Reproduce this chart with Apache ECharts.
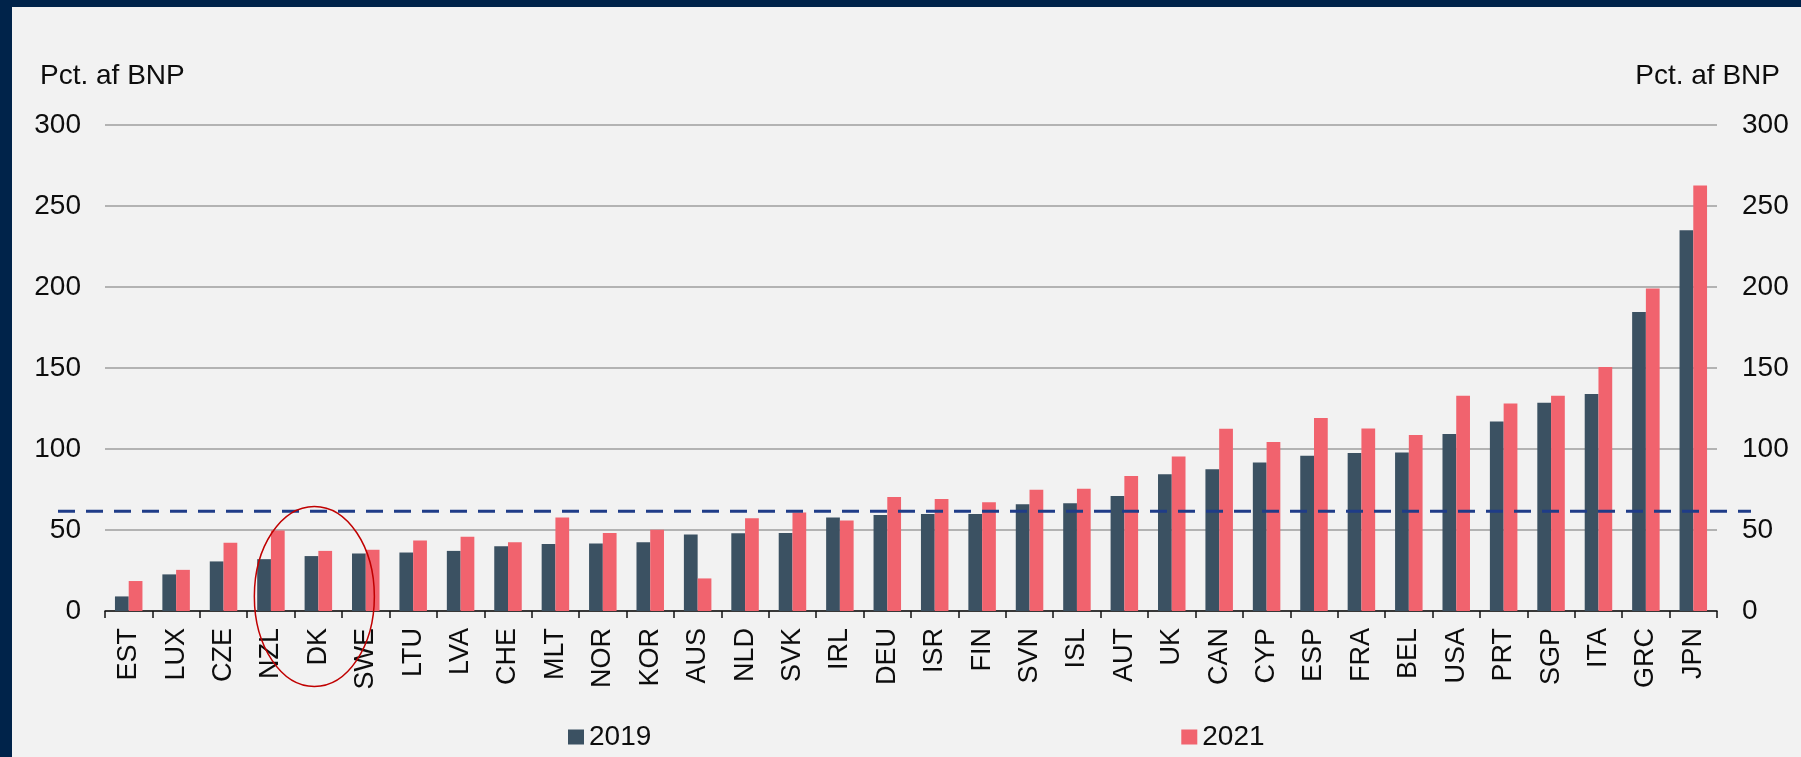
<!DOCTYPE html>
<html>
<head>
<meta charset="utf-8">
<script src="https://cdn.jsdelivr.net/npm/echarts@6/dist/echarts.min.js"></script>
<style>
    html, body { margin: 0; padding: 0; background: #00234a; }
    #wrap { width: 1789px; height: 750px; border-left: 12px solid #00234a; border-top: 7px solid #00234a; background: #f2f2f2; }
    #chart { width: 1789px; height: 750px; }
</style>
</head>
<body>
<div id="wrap"><div id="chart"></div></div>
<script>
// lande
var categories = ['EST', 'LUX', 'CZE', 'NZL', 'DK', 'SWE', 'LTU', 'LVA', 'CHE', 'MLT', 'NOR', 'KOR', 'AUS', 'NLD', 'SVK', 'IRL', 'DEU',
    'ISR', 'FIN', 'SVN', 'ISL', 'AUT', 'UK', 'CAN', 'CYP', 'ESP', 'FRA', 'BEL', 'USA', 'PRT', 'SGP', 'ITA', 'GRC', 'JPN'];
// gæld, pct. af BNP
var debt2019 = [9.0, 22.6, 30.6, 32.0, 33.9, 35.5, 36.1, 37.1, 40.0, 41.3, 41.7, 42.5, 47.2, 48.0, 48.2, 57.7, 59.3,
    59.9, 59.9, 65.9, 66.5, 71.0, 84.4, 87.5, 91.6, 95.9, 97.5, 97.9, 109.2, 117.0, 128.5, 134.0, 184.5, 235.1];
var debt2021 = [18.5, 25.4, 42.1, 49.7, 37.1, 37.8, 43.5, 45.8, 42.5, 57.7, 48.2, 50.1, 20.1, 57.3, 60.8, 55.8, 70.4,
    69.2, 67.1, 74.9, 75.5, 83.3, 95.4, 112.5, 104.3, 119.1, 112.7, 108.6, 132.8, 128.1, 132.8, 150.6, 199.0, 262.6];
// akse
var yTicks = [0, 50, 100, 150, 200, 250, 300];
var refLevel = 61.5;       // stiplet linje
var markedCountry = ['DK', 9];  // ring om DK

var myChart;
init();

function init() {
    myChart = echarts.init(document.getElementById('chart'));
    var font = 'Liberation Sans, Arial, sans-serif';
    var ink = '#0d0d0d';
    var yMin = yTicks[0], yMax = yTicks[yTicks.length - 1], yStep = yTicks[1] - yTicks[0];
    var option = {
        animation: false,
        color: ['#3b5162', '#f1636e'],
        textStyle: { fontFamily: font },
        title: [
            { text: 'Pct. af BNP', left: 23, top: 50, textStyle: { fontSize: 28, fontWeight: 'normal', color: ink, fontFamily: font } },
            { text: 'Pct. af BNP', right: 16, top: 50, textStyle: { fontSize: 28, fontWeight: 'normal', color: ink, fontFamily: font } }
        ],
        legend: {
            data: ['2019', '2021'],
            left: 551,
            top: 711,
            icon: 'rect',
            itemWidth: 16,
            itemHeight: 15,
            itemGap: 530,
            textStyle: { fontSize: 28, color: ink, fontFamily: font }
        },
        grid: [
            { left: 93, right: 84, top: 118, bottom: 146 },
            { left: 46, right: 50, top: 118, bottom: 146 }   // til stiplet linje
        ],
        xAxis: [
            {
                type: 'category',
                gridIndex: 0,
                data: categories,
                axisLine: { lineStyle: { color: '#111', width: 1.5 } },
                axisTick: { show: true, length: 7, lineStyle: { color: '#111', width: 1.5 } },
                axisLabel: { rotate: 90, margin: 17, fontSize: 27, color: ink, fontFamily: font, interval: 0 }
            },
            { type: 'value', gridIndex: 1, min: 0, max: 1, show: false }
        ],
        yAxis: [
            {
                type: 'value', gridIndex: 0, position: 'left',
                min: yMin, max: yMax, interval: yStep,
                axisLine: { show: false }, axisTick: { show: false },
                axisLabel: { margin: 24, fontSize: 28, color: ink, fontFamily: font },
                splitLine: { lineStyle: { color: '#b3b3b3', width: 2 } }
            },
            {
                type: 'value', gridIndex: 0, position: 'right',
                min: yMin, max: yMax, interval: yStep,
                axisLine: { show: false }, axisTick: { show: false },
                axisLabel: { margin: 25, fontSize: 28, color: ink, fontFamily: font },
                splitLine: { show: false }
            },
            { type: 'value', gridIndex: 1, min: yMin, max: yMax, show: false }
        ],
        series: [
            {
                name: '2019', type: 'bar', xAxisIndex: 0, yAxisIndex: 0,
                barWidth: '29%', barGap: '0%',
                data: debt2019
            },
            {
                name: '2021', type: 'bar', xAxisIndex: 0, yAxisIndex: 0,
                barWidth: '29%', barGap: '0%',
                data: debt2021
            },
            {
                name: 'niveau', type: 'line', xAxisIndex: 1, yAxisIndex: 2,
                symbol: 'none', z: 5, silent: true,
                lineStyle: { color: '#1f3c88', width: 3, type: [17, 11] },
                data: [[0, refLevel], [1, refLevel]]
            },
            {
                name: 'ring', type: 'custom', xAxisIndex: 0, yAxisIndex: 0,
                z: 6, silent: true,
                renderItem: function (params, api) {
                    var p = api.coord([api.value(0), api.value(1)]);
                    return {
                        type: 'ellipse',
                        shape: { cx: p[0] - 4, cy: p[1], rx: 60, ry: 90 },
                        style: { fill: 'none', stroke: '#c00000', lineWidth: 1.5 }
                    };
                },
                data: [markedCountry]
            }
        ]
    };
    myChart.setOption(option);
}
</script>
</body>
</html>
